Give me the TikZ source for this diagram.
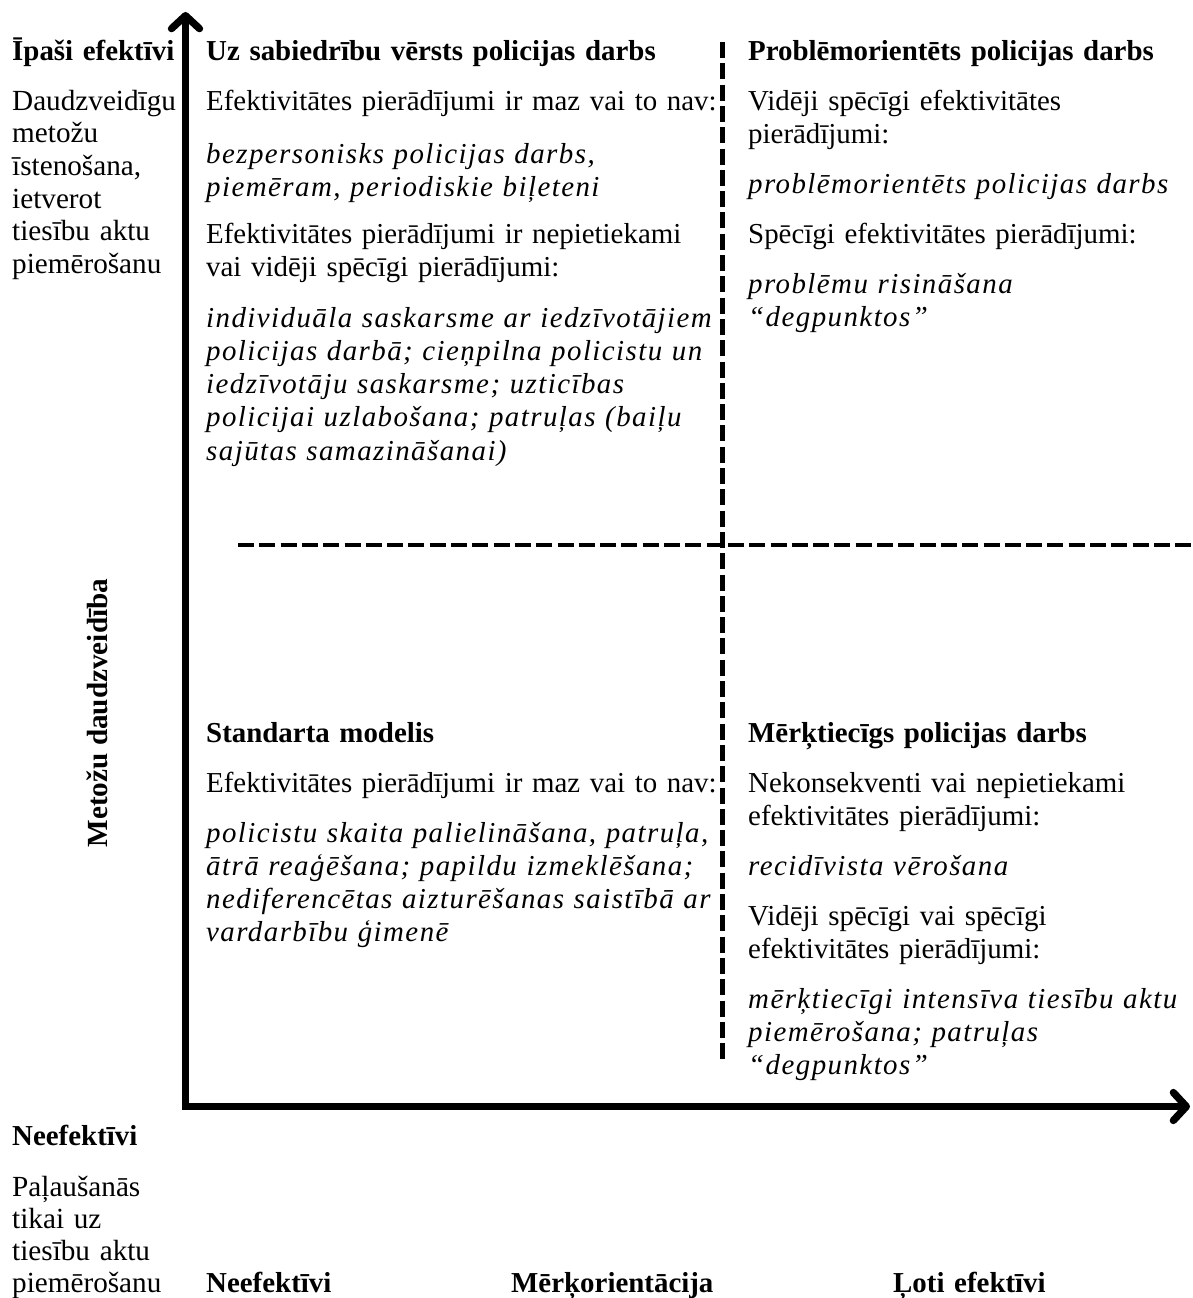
\documentclass[tikz,border=0pt]{standalone}
\usepackage{fontspec}
\setmainfont{Liberation Serif}
\newfontfamily\spit{Liberation Serif}[LetterSpace=5]
\usetikzlibrary{arrows.meta}
\begin{document}
\begin{tikzpicture}[x=1pt,y=-1pt,
  txt/.style={anchor=base west, inner sep=0pt, text width=560pt, align=left,
    font=\fontsize{28.9}{33.3}\selectfont},
  lcol/.style={txt, font=\fontsize{29.2}{32.7}\selectfont},
  ttl/.style={txt, font=\fontsize{28.9}{33.3}\selectfont\bfseries},
  itx/.style={txt, font=\fontsize{28.9}{33.3}\selectfont\spit\itshape},
  axis/.style={line width=7.3pt, line join=miter,
    {Straight Barb[length=13pt,width=28pt,round]}-{Straight Barb[length=13pt,width=28pt,round]}},
  divline/.style={line width=4.8pt, dash pattern=on 16pt off 5.3pt}]
\useasboundingbox (0,0) rectangle (1192,1298);

% axes
\coordinate (ytip) at (185.5,12);
\coordinate (corner) at (185.5,1106.5);
\coordinate (xtip) at (1190,1106.5);
\draw[axis] (ytip) -- (corner) -- (xtip);

% dividers
\coordinate (vtop) at (722.8,42);
\coordinate (vbot) at (722.8,1062);
\coordinate (hleft) at (238,545);
\coordinate (hright) at (1192,545);
\draw[divline] (vtop) -- (vbot);
\draw[divline] (hleft) -- (hright);

% left column
\node[ttl] (tl1) at (12,60) {Īpaši efektīvi};
\node[lcol] (tl2) at (12,110) {Daudzveidīgu\\metožu\\īstenošana,\\ietverot\\tiesību aktu\\piemērošanu};
\node[ttl] (bl1) at (12,1145) {Neefektīvi};
\node[txt, font=\fontsize{29.2}{32}\selectfont] (bl2) at (12,1196) {Paļaušanās\\tikai uz\\tiesību aktu\\piemērošanu};
\node[anchor=base, inner sep=0pt, rotate=90, font=\fontsize{29.2}{33.3}\selectfont\bfseries] (yl) at (107,713) {Metožu daudzveidība};

% bottom labels
\node[ttl] (x1) at (206,1292) {Neefektīvi};
\node[ttl] (x2) at (511,1292) {Mērķorientācija};
\node[ttl] (x3) at (893,1292) {Ļoti efektīvi};

% top-left quadrant
\node[ttl] (a0) at (206,60) {Uz sabiedrību vērsts policijas darbs};
\node[txt] (a1) at (206,110) {Efektivitātes pierādījumi ir maz vai to nav:};
\node[itx] (a2) at (206,163) {bezpersonisks policijas darbs,\\piemēram, periodiskie biļeteni};
\node[txt] (a3) at (206,243) {Efektivitātes pierādījumi ir nepietiekami\\vai vidēji spēcīgi pierādījumi:};
\node[itx] (a4) at (206,327) {individuāla saskarsme ar iedzīvotājiem\\policijas darbā; cieņpilna policistu un\\iedzīvotāju saskarsme; uzticības\\policijai uzlabošana; patruļas (baiļu\\sajūtas samazināšanai)};

% top-right quadrant
\node[ttl] (b0) at (748,60) {Problēmorientēts policijas darbs};
\node[txt] (b1) at (748,110) {Vidēji spēcīgi efektivitātes\\pierādījumi:};
\node[itx] (b2) at (748,193) {problēmorientēts policijas darbs};
\node[txt] (b3) at (748,243) {Spēcīgi efektivitātes pierādījumi:};
\node[itx] (b4) at (748,293) {problēmu risināšana\\“degpunktos”};

% bottom-left quadrant
\node[ttl] (c0) at (206,742) {Standarta modelis};
\node[txt] (c1) at (206,792) {Efektivitātes pierādījumi ir maz vai to nav:};
\node[itx] (c2) at (206,842) {policistu skaita palielināšana, patruļa,\\ātrā reaģēšana; papildu izmeklēšana;\\nediferencētas aizturēšanas saistībā ar\\vardarbību ģimenē};

% bottom-right quadrant
\node[ttl] (d0) at (748,742) {Mērķtiecīgs policijas darbs};
\node[txt] (d1) at (748,792) {Nekonsekventi vai nepietiekami\\efektivitātes pierādījumi:};
\node[itx] (d2) at (748,875) {recidīvista vērošana};
\node[txt] (d3) at (748,925) {Vidēji spēcīgi vai spēcīgi\\efektivitātes pierādījumi:};
\node[itx] (d4) at (748,1008) {mērķtiecīgi intensīva tiesību aktu\\piemērošana; patruļas\\“degpunktos”};
\end{tikzpicture}
\end{document}
